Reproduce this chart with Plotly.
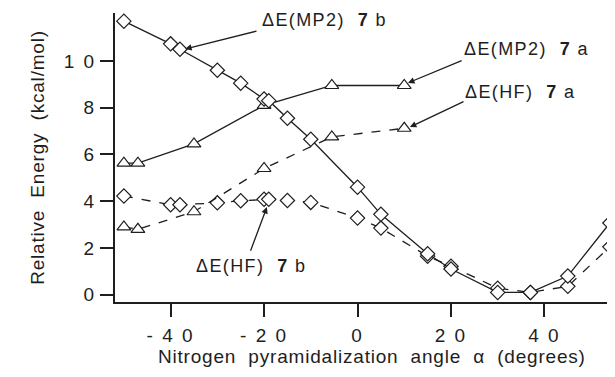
import plotly.graph_objects as go

# MP2 7b (solid, diamonds)
mp2_7b_x = [-50, -40, -38, -30, -25, -20, -19, -15, -10, 0, 5, 15, 20, 30, 37, 45, 54]
mp2_7b_y = [11.7, 10.73, 10.5, 9.6, 9.05, 8.37, 8.3, 7.55, 6.65, 4.6, 3.44, 1.75, 1.1, 0.1, 0.1, 0.8, 3.07]
# HF 7b (dashed, diamonds)
hf_7b_x = [-50, -40, -38, -30, -25, -20, -19, -15, -10, 0, 5, 15, 20, 30, 37, 45, 54]
hf_7b_y = [4.22, 3.85, 3.85, 3.93, 4.02, 4.08, 4.08, 4.03, 3.95, 3.28, 2.85, 1.65, 1.22, 0.28, 0.1, 0.36, 2.05]
# MP2 7a (solid, triangles)
mp2_7a_x = [-50, -47, -35, -20, -5.5, 10]
mp2_7a_y = [5.63, 5.63, 6.45, 8.1, 8.95, 8.95]
# HF 7a (dashed, triangles)
hf_7a_x = [-50, -47, -35, -20, -5.5, 10]
hf_7a_y = [2.9, 2.8, 3.55, 5.4, 6.75, 7.12]

x_ticks = [-40, -20, 0, 20, 40]
x_ticklabels = ["- 4 0", "- 2 0", "0", "2 0", "4 0"]
y_ticks = [0, 2, 4, 6, 8, 10]
y_ticklabels = ["0", "2", "4", "6", "8", "1 0"]

ink = "#1e1e1e"
font = "Liberation Sans, Arial, sans-serif"
nb = "\u00a0"


def spaced(t, px):
    return f'<span style="letter-spacing:{px}px">{t}</span>'


fig = go.Figure()


def add(x, y, dash, symbol, size):
    fig.add_trace(go.Scatter(
        x=x, y=y, mode="lines+markers",
        line=dict(color=ink, width=1.3, dash=dash),
        marker=dict(symbol=symbol, size=size, color="white",
                    line=dict(color=ink, width=1.2)),
        showlegend=False, cliponaxis=False))


add(hf_7b_x, hf_7b_y, "dash", "diamond", 11)
add(hf_7a_x, hf_7a_y, "dash", "triangle-up", 12)
add(mp2_7a_x, mp2_7a_y, "solid", "triangle-up", 12)
add(mp2_7b_x, mp2_7b_y, "solid", "diamond", 11)

labels = [
    (f"ΔE(MP2){nb}{nb}<b>7</b>{nb}b", -20.9, 11.75),
    (f"ΔE(MP2){nb}{nb}<b>7</b>{nb}a", 22.4, 10.52),
    (f"ΔE(HF){nb}{nb}<b>7</b>{nb}a", 22.6, 8.67),
    (f"ΔE(HF){nb}{nb}<b>7</b>{nb}b", -35.0, 1.22),
]
for t, x, y in labels:
    fig.add_annotation(x=x, y=y, text=spaced(t, 1.4), showarrow=False, xanchor="left",
                       yanchor="middle", font=dict(size=18, color=ink, family=font))

arrows = [
    (-36.9, 10.51, -21.3, 11.29),
    (10.8, 9.06, 22.6, 10.04),
    (11.2, 7.17, 23.0, 8.29),
    (-19.4, 3.75, -23.0, 1.82),
]
for hx, hy, tx, ty in arrows:
    fig.add_annotation(x=hx, y=hy, ax=tx, ay=ty, xref="x", yref="y",
                       axref="x", ayref="y", text="", showarrow=True,
                       arrowhead=2, arrowsize=1.0, arrowwidth=1.3, arrowcolor=ink)

# x-axis title placed as a paper annotation for exact centering
fig.add_annotation(
    text=spaced(f"Nitrogen{nb}{nb}pyramidalization{nb}{nb}angle{nb}{nb}α{nb}{nb}(degrees)", 0.8),
    xref="paper", yref="paper", x=0.514, y=-0.19, xanchor="center", yanchor="middle",
    showarrow=False, font=dict(size=19, color=ink, family=font))

fig.update_layout(
    width=607, height=369,
    margin=dict(l=107, r=0, t=5, b=75),
    paper_bgcolor="white", plot_bgcolor="white",
    font=dict(family=font, size=18, color=ink),
    xaxis=dict(range=[-51.9, 55.1], tickvals=x_ticks,
               ticktext=[spaced(t, 2) for t in x_ticklabels],
               showgrid=False, zeroline=False, showline=True, linecolor=ink,
               linewidth=2, ticks="outside", ticklen=13, tickwidth=2,
               tickcolor=ink, automargin=False, tickfont=dict(size=19),
               ticklabelstandoff=2),
    yaxis=dict(range=[-0.31, 12.05], tickvals=y_ticks,
               ticktext=[spaced(t, 2) for t in y_ticklabels],
               showgrid=False, zeroline=False, showline=True, linecolor=ink,
               linewidth=2, ticks="outside", ticklen=13, tickwidth=2,
               tickcolor=ink, automargin=False, tickfont=dict(size=19),
               title=dict(text=spaced(f"Relative{nb}{nb}Energy{nb}{nb}(kcal/mol)", 0.8),
                          font=dict(size=19), standoff=14)),
)

fig.write_html("out.html")
